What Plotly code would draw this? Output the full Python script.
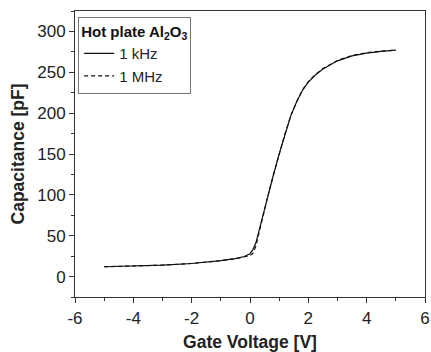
import plotly.graph_objects as go

voltage = [-5, -4, -3, -2, -1.5, -1, -0.5, -0.2, 0, 0.1, 0.2, 0.3, 0.4, 0.5, 0.6, 0.8,
           1.0, 1.2, 1.4, 1.6, 1.8, 2.0, 2.25, 2.5, 3, 3.5, 4, 4.5, 5]
cap_1khz = [12, 12.8, 14, 16, 17.5, 19.5, 22, 24.5, 28, 33, 41, 55, 70, 84, 97, 124,
            150, 175, 197, 214, 228, 238, 247, 254, 264, 270, 273.5, 275.5, 277]
cap_1mhz = [12, 12.8, 14, 16, 17.5, 19.5, 22, 24, 25.5, 28.5, 37, 52, 68, 83, 97, 124,
            150, 175, 197, 214, 228.5, 238.5, 247.5, 254.5, 264.5, 270.5, 274, 276, 277]

x_tickvals = [-6, -4, -2, 0, 2, 4, 6]
x_ticktext = ["-6", "-4", "-2", "0", "2", "4", "6"]
y_tickvals = [0, 50, 100, 150, 200, 250, 300]
y_ticktext = ["0", "50", "100", "150", "200", "250", "300"]

font_family = "Liberation Sans, Arial, sans-serif"

fig = go.Figure()
fig.add_trace(go.Scatter(x=voltage, y=cap_1khz, mode="lines", name="1 kHz",
                         line=dict(color="#111", width=1.2)))
fig.add_trace(go.Scatter(x=voltage, y=cap_1mhz, mode="lines", name="1 MHz",
                         line=dict(color="#111", width=1.2, dash="4px,3px")))

axis_common = dict(showline=True, linecolor="#333", linewidth=1, mirror=True,
                   ticks="outside", ticklen=5, tickcolor="#333", showgrid=False,
                   zeroline=False, automargin=False,
                   tickfont=dict(size=17, color="#222", family=font_family))

fig.update_xaxes(range=[-6, 6], tickmode="array", tickvals=x_tickvals, ticktext=x_ticktext,
                 ticklabelstandoff=1,
                 minor=dict(dtick=1, tick0=0, ticks="outside", ticklen=3, tickcolor="#333"),
                 title=dict(text="<b>Gate Voltage [V]</b>", standoff=14,
                            font=dict(size=17.5, color="#222", family=font_family)),
                 **axis_common)
fig.update_yaxes(range=[-25, 325], tickmode="array", tickvals=y_tickvals, ticktext=y_ticktext,
                 minor=dict(dtick=25, tick0=0, ticks="outside", ticklen=3, tickcolor="#333"),
                 title=dict(text="<b>Capacitance [pF]</b>", standoff=8,
                            font=dict(size=17.5, color="#222", family=font_family)),
                 **axis_common)

fig.update_layout(
    width=431, height=352,
    margin=dict(l=75, r=6, t=11, b=55),
    paper_bgcolor="white", plot_bgcolor="white",
    font=dict(family=font_family, color="#222"),
    showlegend=True,
    legend=dict(x=0.009, y=0.98, xanchor="left", yanchor="top",
                bordercolor="#777", borderwidth=1, bgcolor="white",
                title=dict(text="<b>Hot plate Al<sub>2</sub>O<sub>3</sub></b>",
                           font=dict(size=15, color="#111", family=font_family)),
                font=dict(size=15, color="#222", family=font_family),
                tracegroupgap=0, itemwidth=30),
)

fig.write_html("out.html")
